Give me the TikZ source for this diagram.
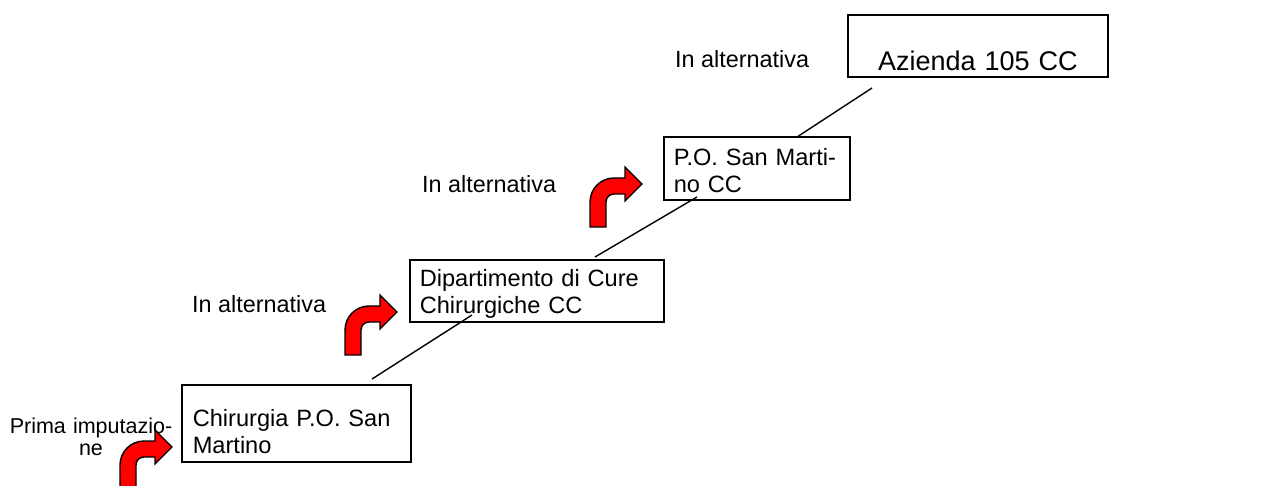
\documentclass[tikz,border=0pt]{standalone}
\usepackage{fontspec}
\setmainfont{Liberation Sans}

\tikzset{
  unit/.style={draw, line width=1.6pt, inner xsep=10pt, inner ysep=0pt,
    anchor=north west, align=left, font=\fontsize{23.6}{27}\selectfont},
  note/.style={inner sep=0pt, anchor=base west, font=\fontsize{23.4}{27}\selectfont},
  link/.style={line width=1.4pt},
  arrowfill/.style={fill=red, draw=black, line width=1.4pt},
  turnarrow/.pic={
    \draw[arrowfill] (0,0) -- (16,0) -- (16,-25) arc (180:270:8) -- (35,-33)
      -- (35,-26) -- (52,-43) -- (35,-60) -- (35,-49) -- (24,-49)
      arc (270:180:24) -- cycle;
  }
}

\begin{document}
\begin{tikzpicture}[x=1pt,y=-1pt]

  \useasboundingbox (0,0) rectangle (1267,486);

  % boxes
  \node[unit, inner xsep=11pt, text width=207pt, text height=42pt, text depth=35pt]
    (chir) at (181,384) {Chirurgia P.O. San\\Martino};
  \node[unit, text width=234pt, text height=27pt, text depth=35pt]
    (dip) at (409,259) {Dipartimento di Cure\\Chirurgiche CC};
  \node[unit, text width=166pt, text height=29pt, text depth=34pt]
    (po) at (663,136) {P.O. San Marti-\\no CC};
  \node[unit, align=center, text width=240pt, text height=56pt, text depth=6pt,
    font=\fontsize{27}{31}\selectfont]
    (az) at (847,14) {Azienda 105 CC};

  % labels
  \node[note, anchor=base, text width=170pt, align=center,
    font=\fontsize{21.5}{22.5}\selectfont] (prima) at (91,433) {Prima imputazio-\\ne};
  \node[note] (alt1) at (192,313) {In alternativa};
  \node[note] (alt2) at (422,193) {In alternativa};
  \node[note] (alt3) at (675,68) {In alternativa};

  % links
  \coordinate (l1a) at (372,379);
  \coordinate (l1b) at (472,315);
  \coordinate (l2a) at (595,257);
  \coordinate (l2b) at (697,197);
  \coordinate (l3a) at (797,137);
  \coordinate (l3b) at (872,88);
  \draw[link] (l1a) -- (l1b);
  \draw[link] (l2a) -- (l2b);
  \draw[link] (l3a) -- (l3b);

  % red arrows
  \pic (arr1) at (120,490) {turnarrow};
  \pic (arr2) at (345,355) {turnarrow};
  \pic (arr3) at (590,227) {turnarrow};

\end{tikzpicture}
\end{document}
